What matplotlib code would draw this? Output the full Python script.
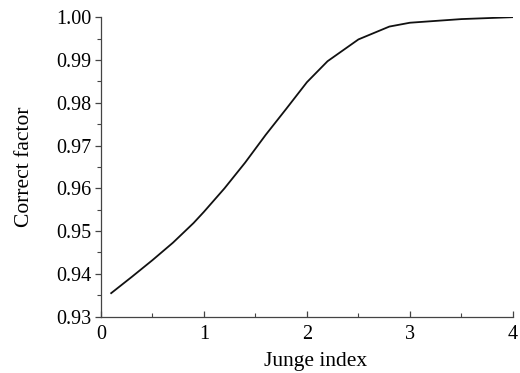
import matplotlib
matplotlib.use("Agg")
import matplotlib.pyplot as plt
from matplotlib.ticker import MultipleLocator

# valeurs
junge = [0.1, 0.3, 0.5, 0.7, 0.9, 1.0, 1.2, 1.4, 1.6, 1.8, 2.0, 2.2, 2.5, 2.8, 3.0, 3.5, 4.0]
factor = [0.9355, 0.9393, 0.9432, 0.9473, 0.9519, 0.9545, 0.9600, 0.9660, 0.9725, 0.9786,
          0.9848, 0.9897, 0.9948, 0.9978, 0.9987, 0.99955, 1.0000]

plt.rcParams["font.family"] = "Liberation Serif"
plt.rcParams["font.size"] = 14.5

fig = plt.figure(figsize=(5.2, 3.73), dpi=100)
ax = fig.add_axes([0.194, 0.151, 0.7925, 0.803])

ax.plot(junge, factor, color="#111111", lw=1.3)

ax.set_xlim(0, 4)
ax.set_ylim(0.93, 1.0)
ax.xaxis.set_major_locator(MultipleLocator(1))
ax.xaxis.set_minor_locator(MultipleLocator(0.5))
ax.yaxis.set_major_locator(MultipleLocator(0.01))
ax.yaxis.set_minor_locator(MultipleLocator(0.005))
ax.yaxis.set_major_formatter(plt.FormatStrFormatter("%.2f"))

for s in ["top", "right"]:
    ax.spines[s].set_visible(False)
for s in ["left", "bottom"]:
    ax.spines[s].set_color("#444444")
    ax.spines[s].set_linewidth(0.9)

ax.tick_params(axis="x", which="both", direction="in", color="#444444", pad=6)
ax.tick_params(axis="y", which="both", direction="out", color="#444444", pad=3)
ax.tick_params(which="major", length=4, width=0.9)
ax.tick_params(which="minor", length=3, width=0.8)

ax.set_xlabel("Junge index", fontsize=15.5, labelpad=6, x=0.52)
ax.set_ylabel("Correct factor", fontsize=15.5, labelpad=16)

fig.savefig("out.png", dpi=100)
